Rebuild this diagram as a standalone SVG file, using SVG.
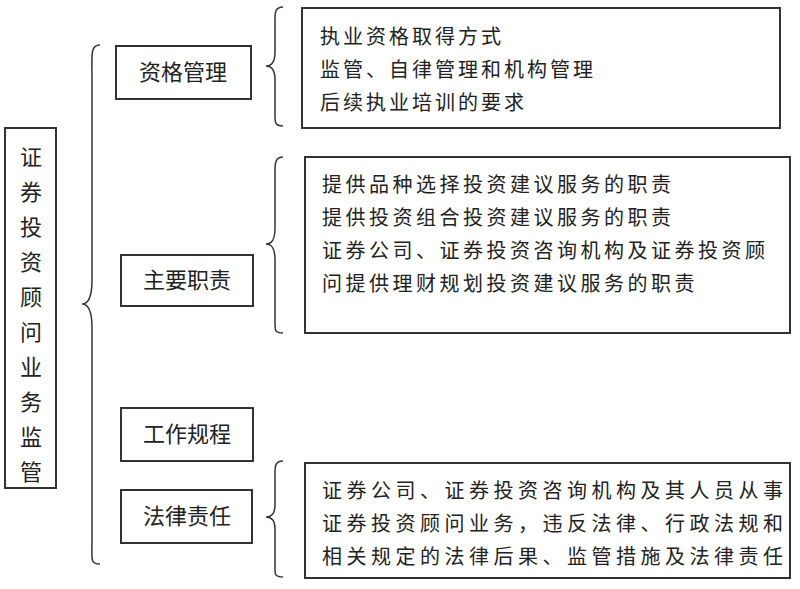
<svg xmlns="http://www.w3.org/2000/svg" width="800" height="589" viewBox="0 0 800 589">
<style>
rect{fill:#fff;stroke:#333;stroke-width:2}
path{fill:none;stroke:#333;stroke-width:1.5}
text{font-family:"Noto Sans CJK SC","Noto Sans",sans-serif;fill:#222}
.l{font-size:22px}
.r{font-size:20px}
</style>
<rect x="0" y="0" width="800" height="589" style="stroke:none"/>
<g id="root"><rect x="5" y="128" width="51" height="360"/>
<text class="l" text-anchor="middle" x="31"><tspan x="31" y="165">证</tspan><tspan x="31" y="200">券</tspan><tspan x="31" y="235">投</tspan><tspan x="31" y="270">资</tspan><tspan x="31" y="305">顾</tspan><tspan x="31" y="340">问</tspan><tspan x="31" y="375">业</tspan><tspan x="31" y="410">务</tspan><tspan x="31" y="445">监</tspan><tspan x="31" y="480">管</tspan></text></g>
<g id="connectors">
<path d="M100,45 C90,45 92,55 92,80 L92,280 C92,298 88,304 82,304 C88,304 92,310 92,328 L92,540 C92,560 90,564 100,564"/>
<path d="M283,7 C274,7 275,14 275,25 L275,52 C275,62 272,66 266,66 C272,66 275,70 275,80 L275,110 C275,122 274,126 283,126"/>
<path d="M283,157 C274,157 275,165 275,178 L275,228 C275,240 272,244 266,244 C272,244 275,248 275,260 L275,318 C275,330 274,333 283,333"/>
<path d="M283,461 C274,461 275,468 275,478 L275,505 C275,513 272,517 266,517 C272,517 275,521 275,529 L275,565 C275,574 274,577 283,577"/>
</g>
<g id="n1"><rect x="116" y="46" width="135" height="53"/><text class="l" x="183" y="80" text-anchor="middle">资格管理</text></g>
<g id="n2"><rect x="121" y="255" width="132" height="51"/><text class="l" x="187" y="288" text-anchor="middle">主要职责</text></g>
<g id="n3"><rect x="121" y="408" width="132" height="53"/><text class="l" x="187" y="442" text-anchor="middle">工作规程</text></g>
<g id="n4"><rect x="121" y="490" width="131" height="53"/><text class="l" x="187" y="524" text-anchor="middle">法律责任</text></g>
<g id="d1"><rect x="302" y="8" width="478" height="120"/>
<text class="r" letter-spacing="3"><tspan x="320" y="44">执业资格取得方式</tspan><tspan x="320" y="77">监管、自律管理和机构管理</tspan><tspan x="320" y="110">后续执业培训的要求</tspan></text></g>
<g id="d2"><rect x="305" y="157" width="485" height="176"/>
<text class="r" letter-spacing="3.5"><tspan x="322" y="192">提供品种选择投资建议服务的职责</tspan><tspan x="322" y="225">提供投资组合投资建议服务的职责</tspan><tspan x="322" y="258">证券公司、证券投资咨询机构及证券投资顾</tspan><tspan x="322" y="291">问提供理财规划投资建议服务的职责</tspan></text></g>
<g id="d4"><rect x="305" y="463" width="485" height="115"/>
<text class="r" letter-spacing="4.5"><tspan x="322" y="498">证券公司、证券投资咨询机构及其人员从事</tspan><tspan x="322" y="531">证券投资顾问业务，违反法律、行政法规和</tspan><tspan x="322" y="564">相关规定的法律后果、监管措施及法律责任</tspan></text></g>
</svg>
